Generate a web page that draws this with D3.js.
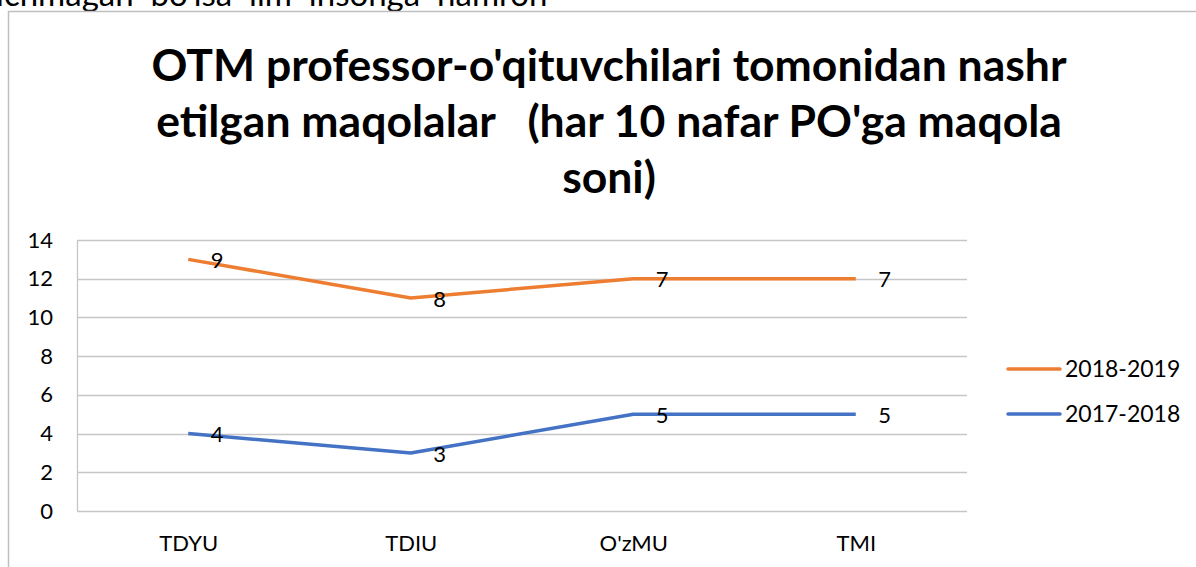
<!DOCTYPE html>
<html>
<head>
<meta charset="utf-8">
<script src="https://cdn.jsdelivr.net/npm/d3@7"></script>
<style>
  html, body { margin: 0; padding: 0; background: #fff; }
  svg { display: block; }
</style>
</head>
<body>
<svg id="chart" width="1196" height="567"></svg>
<script>
const categories = ["TDYU", "TDIU", "O'zMU", "TMI"];
const series2017 = [4, 3, 5, 5];
const series2018 = [9, 8, 7, 7];
const seriesNames = ["2018-2019", "2017-2018"];
const yTicks = [0, 2, 4, 6, 8, 10, 12, 14];
const titleLines = ["OTM professor-o'qituvchilari tomonidan nashr", "etilgan maqolalar   (har 10 nafar PO'ga maqola", "soni)"];
const topText = "ichmagan  bo'lsa  ilm  insonga  hamroh";

(function () {
const svg = d3.select("#chart");
const font = "Lato, 'Open Sans', sans-serif";

// text fragment above the chart (cut at top)
svg.append("text").attr("x", -4).attr("y", 6)
  .attr("font-family", font).attr("font-size", 33).attr("fill", "#000")
  .style("white-space", "pre").text(topText);

// chart border
svg.append("rect").attr("x", 8.5).attr("y", 11.5).attr("width", 1200).attr("height", 600)
  .attr("fill", "#fff").attr("stroke", "#bfbfbf").attr("stroke-width", 1.5);

// title
const title = svg.append("text").attr("font-family", font).attr("font-weight", 700)
  .attr("font-size", 44.5).attr("text-anchor", "middle").attr("fill", "#000");
titleLines.forEach((l, i) => {
  title.append("tspan").attr("x", 609).attr("y", 81 + i * 56).style("white-space", "pre").text(l);
});

const pLeft = 77, pRight = 967, pTop = 240, pBottom = 511;
const x = d3.scalePoint().domain(categories).range([pLeft, pRight]).padding(0.5);
const y = d3.scaleLinear().domain([0, 14]).range([pBottom, pTop]);

// gridlines
svg.append("g").selectAll("line").data(yTicks).join("line")
  .attr("x1", pLeft).attr("x2", pRight)
  .attr("y1", d => Math.round(y(d)) + 0.5).attr("y2", d => Math.round(y(d)) + 0.5)
  .attr("stroke", "#c6c6c6").attr("stroke-width", 1.3);
svg.append("line").attr("x1", pLeft + 0.5).attr("x2", pLeft + 0.5).attr("y1", pTop).attr("y2", pBottom)
  .attr("stroke", "#c6c6c6").attr("stroke-width", 1.3);

// y axis labels
const yAxis = d3.axisLeft(y).tickValues(yTicks).tickSize(0).tickPadding(24);
const gy = svg.append("g").attr("transform", `translate(${pLeft},0)`).call(yAxis);
gy.select(".domain").remove();
gy.selectAll("text").attr("font-family", font).attr("font-size", 22).attr("fill", "#000");

// x axis labels
const xAxis = d3.axisBottom(x).tickSize(0).tickPadding(24);
const gx = svg.append("g").attr("transform", `translate(0,${pBottom})`).call(xAxis);
gx.select(".domain").remove();
gx.selectAll("text").attr("font-family", font).attr("font-size", 22).attr("fill", "#000");

// stacked values
const stackTop = series2018.map((v, i) => v + series2017[i]);
const line = d3.line().x(d => x(d.c)).y(d => y(d.v));
const colors = {"2018-2019": "#ED7D31", "2017-2018": "#4472C4"};

const data = [
  {name: "2017-2018", pts: categories.map((c, i) => ({c, v: series2017[i], label: series2017[i]}))},
  {name: "2018-2019", pts: categories.map((c, i) => ({c, v: stackTop[i], label: series2018[i]}))}
];

data.forEach(s => {
  svg.append("path").datum(s.pts).attr("d", line).attr("fill", "none")
    .attr("stroke", colors[s.name]).attr("stroke-width", 3.5).attr("stroke-linejoin", "round");
  svg.append("g").selectAll("text").data(s.pts).join("text")
    .attr("x", d => x(d.c) + 29).attr("y", d => y(d.v) + 1)
    .attr("dy", "0.35em").attr("text-anchor", "middle")
    .attr("font-family", font).attr("font-size", 22).attr("fill", "#000")
    .text(d => d.label);
});

// legend
const lg = svg.append("g");
seriesNames.forEach((n, i) => {
  const ly = 369 + i * 45;
  lg.append("line").attr("x1", 1008).attr("x2", 1060).attr("y1", ly).attr("y2", ly)
    .attr("stroke", colors[n]).attr("stroke-width", 3.5).attr("stroke-linecap", "round");
  lg.append("text").attr("x", 1065).attr("y", ly).attr("dy", "0.35em")
    .attr("font-family", font).attr("font-size", 23).attr("fill", "#000").text(n);
});
})();
</script>
</body>
</html>
